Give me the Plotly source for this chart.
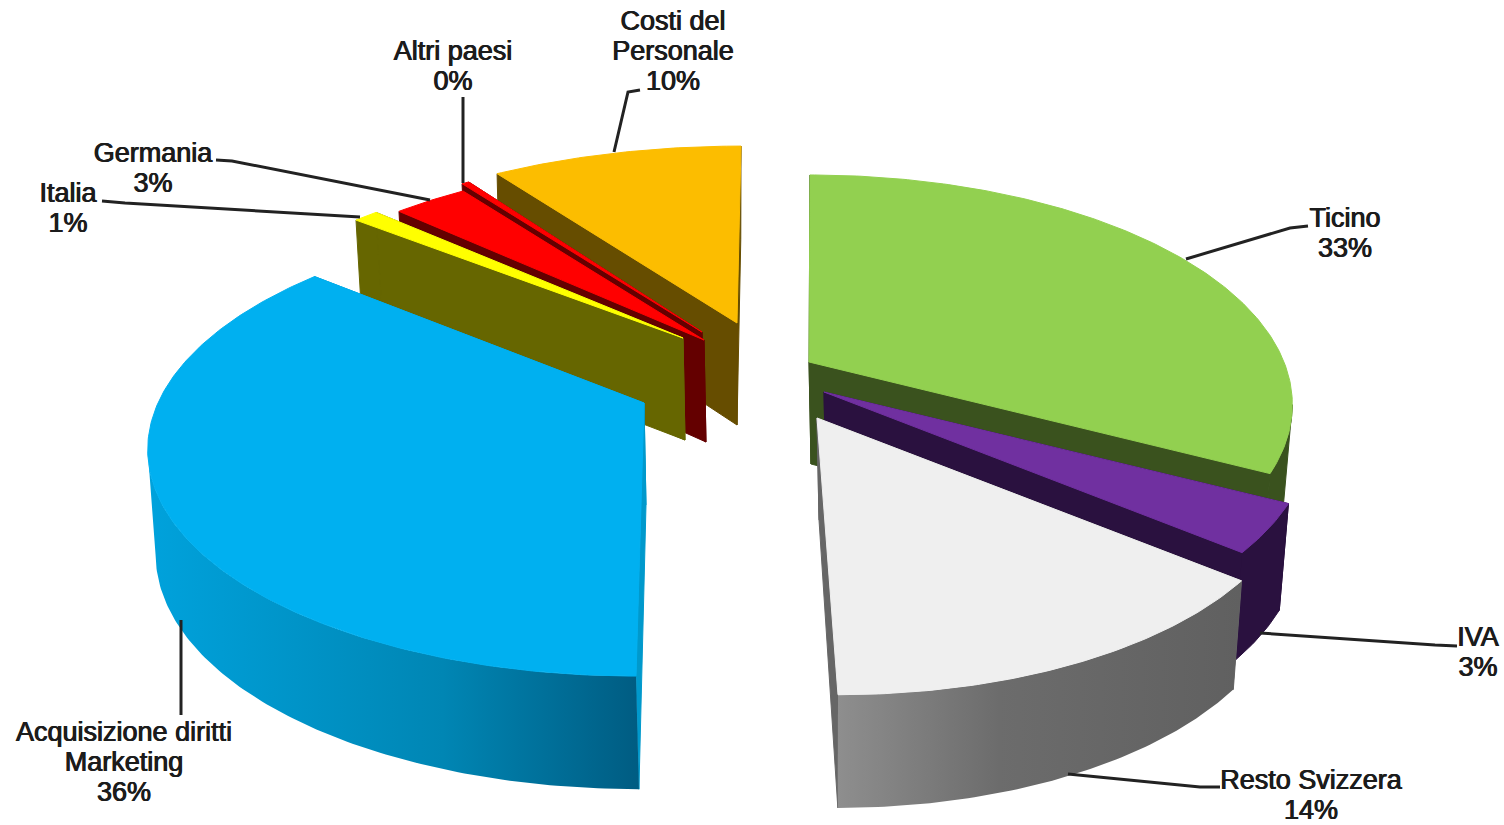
import math
import plotly.graph_objects as go

# ---- data ----
categories = ["Ticino", "IVA", "Resto Svizzera", "Acquisizione diritti Marketing",
              "Italia", "Germania", "Altri paesi", "Costi del Personale"]
shares = [32.6, 3.4, 14.0, 36.0, 1.0, 3.0, 0.3, 9.7]
label_lines = [["Ticino"], ["IVA"], ["Resto Svizzera"], ["Acquisizione diritti", "Marketing"],
               ["Italia"], ["Germania"], ["Altri paesi"], ["Costi del", "Personale"]]

# ---- styling and placement of each exploded piece (pixel-like axes) ----
top_colors = ["#92d050", "#7030a0", "#efefef", "#00b0f0", "#ffff00", "#ff0000", "#ff0000", "#fcbd00"]
wall_colors = ["#3a521e", "#2a113f", "#666666", "#0099cc", "#666600", "#640000", "#640000", "#664d00"]
rim_gradients = {
    2: [[0, "#8e8e8e"], [0.4, "#6c6c6c"], [1, "#606060"]],
    3: [[0, "#00a2dc"], [0.6, "#0086b4"], [1, "#005c82"]],
}
pull_anchor = [(809, 362), (824, 392), (817, 418), (644, 403), (683, 338), (704, 340), (702, 332), (737, 323)]
radius_x = [475, 478, 470, 486, 475, 472, 470, 490]
radius_y = [222, 222, 225, 222, 207, 212, 211, 210]
skew = [1, 0, -21, 8, 0, 0, 0, 4]
wall_shift = [2, 2, 2, 2, 2, 2, 2, 0]
paint_order = [7, 6, 5, 4, 3, 0, 1, 2]
label_anchor = [(1345, 218), (1478, 637), (1311, 780), (124, 732), (68, 193), (153, 153), (453, 51), (673, 21)]
leaders = [
    [(1308, 226), (1290, 228), (1186, 259)],
    [(1457, 646), (1435, 645), (1260, 633)],
    [(1220, 787), (1200, 787), (1068, 774)],
    [(181, 715), (181, 620)],
    [(102, 201), (125, 203), (360, 217)],
    [(216, 160), (232, 161), (430, 200)],
    [(463, 97), (463, 183)],
    [(640, 90), (628, 92), (614, 152)],
]
PERSPECTIVE = 0.187
WALL = 102
VANISH_X = 730
LINE_GAP = 30


def top_point(i, deg):
    t = math.radians(deg)
    c, s = math.cos(t), math.sin(t)
    d = 1 + PERSPECTIVE * c
    ax, ay = pull_anchor[i]
    return ax + radius_x[i] * s / d + skew[i] * c, ay - radius_y[i] * c / d, d


def bottom_of(i, x, y, d):
    slope = 0.01 if x < VANISH_X else 0.02
    return x + wall_shift[i] + (VANISH_X - x) * slope, y + WALL / math.sqrt(d)


total = sum(shares)
starts, acc = [], 0.0
for v in shares:
    starts.append(acc)
    acc += v / total * 360

fig = go.Figure()


def poly(pts, color=None, gradient=None, name=""):
    kw = dict(fillgradient=dict(type="horizontal", colorscale=gradient)) if gradient else dict(fillcolor=color)
    fig.add_trace(go.Scatter(
        x=[p[0] for p in pts] + [pts[0][0]], y=[p[1] for p in pts] + [pts[0][1]],
        mode="lines", fill="toself", name=name, hoverinfo="skip",
        line=dict(width=1 if not gradient else 0, color=color or "rgba(0,0,0,0)"), **kw))


for i in paint_order:
    a0 = starts[i]
    a1 = a0 + shares[i] / total * 360
    ax, ay = pull_anchor[i]
    apex_b = (ax + wall_shift[i], ay + WALL)
    n = max(3, int((a1 - a0) * 1.5))
    arc = [top_point(i, a0 + (a1 - a0) * j / n) for j in range(n + 1)]
    arc_b = [bottom_of(i, *p) for p in arc]
    # radial walls
    for p, q in ((arc[0], arc_b[0]), (arc[-1], arc_b[-1])):
        poly([(ax, ay), p[:2], q, apex_b], color=wall_colors[i], name=categories[i])
    # outer rim wall: only the part between the silhouette and the viewer
    xs = [p[0] for p in arc]
    if (a0 + a1) / 2 < 180:
        e = xs.index(max(xs))
        sub, sub_b = arc[e:], arc_b[e:]
    else:
        e = xs.index(min(xs))
        sub, sub_b = arc[:e + 1], arc_b[:e + 1]
    if len(sub) > 1:
        rim = [p[:2] for p in sub] + sub_b[::-1]
        if i in rim_gradients:
            poly(rim, gradient=rim_gradients[i], name=categories[i])
        else:
            poly(rim, color=wall_colors[i], name=categories[i])
    # top face
    poly([(ax, ay)] + [p[:2] for p in arc], color=top_colors[i], name=categories[i])

shapes = []
for path_pts in leaders:
    d = "M " + " L ".join(f"{x},{y}" for x, y in path_pts)
    shapes.append(dict(type="path", path=d, xref="x", yref="y", line=dict(color="#222222", width=3)))

for i, lines in enumerate(label_lines):
    texts = lines + [f"{shares[i]:.0f}%"]
    lx, ly = label_anchor[i]
    fig.add_trace(go.Scatter(
        x=[lx] * len(texts), y=[ly + 2 + k * LINE_GAP for k in range(len(texts))],
        mode="text", text=texts, textposition="middle center", hoverinfo="skip",
        textfont=dict(family="Liberation Sans", size=27, color="#1c1c1c",
                      shadow="0.5px 0 0 #1c1c1c, -0.4px 0 0 #1c1c1c")))

fig.update_layout(
    width=1504, height=825, margin=dict(l=0, r=0, t=0, b=0),
    paper_bgcolor="white", plot_bgcolor="white", showlegend=False, shapes=shapes,
    xaxis=dict(range=[0, 1504], visible=False, fixedrange=True),
    yaxis=dict(range=[825, 0], visible=False, fixedrange=True),
)
fig.write_html("out.html", config={"displayModeBar": False},
               post_script="document.body.style.margin='0';")
